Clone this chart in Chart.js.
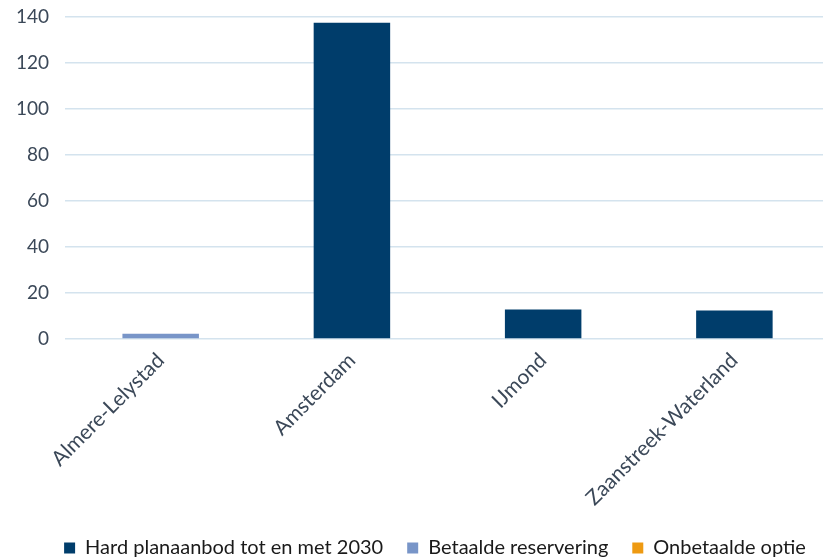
<!DOCTYPE html>
<html>
<head>
<meta charset="utf-8">
<script src="https://cdn.jsdelivr.net/npm/chart.js@4.4.0/dist/chart.umd.min.js"></script>
<style>
  html, body { margin: 0; padding: 0; background: #fff; overflow: hidden; }
  #wrap { width: 830px; height: 558px; }
</style>
</head>
<body>
<div id="wrap"><canvas id="chart"></canvas></div>
<script>
const regios = ['Almere-Lelystad', 'Amsterdam', 'IJmond', 'Zaanstreek-Waterland'];
const hardPlanaanbod = [0, 137.5, 12.8, 12.4];
const betaaldeReservering = [2.3, 0, 0, 0];
const onbetaaldeOptie = [0, 0, 0, 0];
const yTicks = [0, 20, 40, 60, 80, 100, 120, 140];

const textColor = '#3b4858';
const fontFamily = 'Lato, "Open Sans", sans-serif';

// schuift de legenda iets naar rechts, zoals in het origineel
const shiftLegend = {
  id: 'shiftLegend',
  afterLayout(chart) {
    chart.legend.left += 20;
    chart.legend.right += 20;
  }
};

const ctx = document.getElementById('chart').getContext('2d');
new Chart(ctx, {
  type: 'bar',
  data: {
    labels: regios,
    datasets: [
      { label: 'Hard planaanbod tot en met 2030', data: hardPlanaanbod, backgroundColor: '#003d6b' },
      { label: 'Betaalde reservering', data: betaaldeReservering, backgroundColor: '#7895c8' },
      { label: 'Onbetaalde optie', data: onbetaaldeOptie, backgroundColor: '#ee9a12' }
    ]
  },
  options: {
    responsive: true,
    maintainAspectRatio: false,
    animation: false,
    datasets: { bar: { categoryPercentage: 1, barPercentage: 0.4 } },
    layout: { padding: { top: 17, left: 0, right: 0, bottom: -10 } },
    plugins: {
      legend: {
        position: 'bottom',
        labels: {
          color: '#1a1a1a',
          font: { family: fontFamily, size: 20 },
          boxWidth: 11,
          boxHeight: 11,
          padding: 24
        }
      },
      tooltip: { enabled: false }
    },
    scales: {
      x: {
        stacked: true,
        grid: { display: false, drawTicks: false },
        border: { display: false },
        afterFit: s => { s.height = 175; },
        ticks: {
          color: textColor,
          font: { family: fontFamily, size: 21 },
          minRotation: 45,
          maxRotation: 45,
          padding: 9
        }
      },
      y: {
        stacked: true,
        min: 0,
        max: 140,
        afterBuildTicks: axis => { axis.ticks = yTicks.map(v => ({ value: v })); },
        afterFit: s => { s.paddingTop = 0; s.paddingBottom = 0; },
        grid: { color: '#d4e3ee', lineWidth: 1.5, drawTicks: false },
        border: { display: false },
        ticks: {
          color: textColor,
          font: { family: fontFamily, size: 19 },
          padding: 16
        }
      }
    }
  },
  plugins: [shiftLegend]
});
</script>
</body>
</html>
